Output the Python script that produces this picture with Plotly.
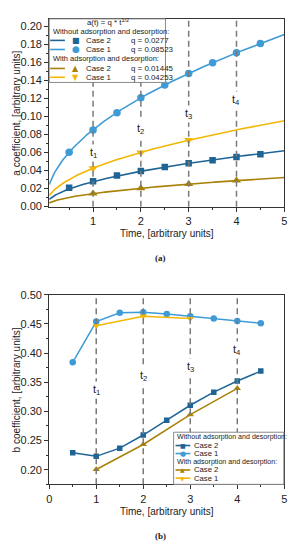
import numpy as np
import plotly.graph_objects as go

# ---------------- data ----------------
t_half = [0.5, 1.0, 1.5, 2.0, 2.5, 3.0, 3.5, 4.0, 4.5]
# panel (a): a coefficient
a_case2_wo = [0.021, 0.028, 0.0345, 0.0395, 0.044, 0.048, 0.0515, 0.055, 0.058]
a_case1_wo = [0.0603, 0.085, 0.104, 0.1205, 0.1348, 0.1476, 0.1595, 0.1705, 0.1808]
t_case2_w = [1, 2, 3, 4]
a_case2_w = [0.0145, 0.0204, 0.025, 0.0289]
t_case1_w = [1, 2, 3]
a_case1_w = [0.0425, 0.0601, 0.0737]
# fit coefficients a(t) = q * t^(1/2), as given in the legend
q_case2_wo = 0.0277
q_case1_wo = 0.08523
q_case2_w = 0.01445
q_case1_w = 0.04253
# panel (b): b coefficient
b_case2_wo = [0.229, 0.223, 0.237, 0.2595, 0.285, 0.3105, 0.333, 0.352, 0.369]
b_case1_wo = [0.384, 0.4538, 0.469, 0.470, 0.467, 0.463, 0.459, 0.455, 0.451]
b_case2_w = [0.2005, 0.2433, 0.2945, 0.3395]
b_case1_w = [0.4467, 0.463, 0.459]
# moments t1..t4
t_moments = [1, 2, 3, 4]
t_labels = ["t<sub>1</sub>", "t<sub>2</sub>", "t<sub>3</sub>", "t<sub>4</sub>"]
t_label_y_a = [0.059, 0.0857, 0.103, 0.118]
t_label_y_b = [0.336, 0.36, 0.376, 0.4055]

# ---------------- style ----------------
OFF = 8  # page body margin
W, H = 302 - OFF, 550 - OFF
C_DB = "#1E6596"
C_LB = "#3E9BD6"
C_GD = "#A88108"
C_YL = "#F2B705"
FONT = "Liberation Sans"
TXT = "#222222"


def px(x):
    return (x - OFF) / W


def py(y):
    return 1 - (y - OFF) / H


XA_RANGE = [0.083, 5.0]
t_fit = np.linspace(XA_RANGE[0], 5.0, 200)

fig = go.Figure()

# panel (a) fit curves
for q, col in [(q_case2_w, C_GD), (q_case1_w, C_YL), (q_case2_wo, C_DB), (q_case1_wo, C_LB)]:
    fig.add_trace(go.Scatter(x=t_fit, y=q * np.sqrt(t_fit), mode="lines",
                             line=dict(color=col, width=1.6), xaxis="x", yaxis="y",
                             showlegend=False, hoverinfo="skip"))
# panel (a) markers
fig.add_trace(go.Scatter(x=t_case2_w, y=a_case2_w, mode="markers", xaxis="x", yaxis="y",
                         marker=dict(symbol="triangle-up", size=8, color=C_GD), showlegend=False))
fig.add_trace(go.Scatter(x=t_case1_w, y=a_case1_w, mode="markers", xaxis="x", yaxis="y",
                         marker=dict(symbol="triangle-down", size=8, color=C_YL), showlegend=False))
fig.add_trace(go.Scatter(x=t_half, y=a_case2_wo, mode="markers", xaxis="x", yaxis="y",
                         marker=dict(symbol="square", size=6.5, color=C_DB), showlegend=False))
fig.add_trace(go.Scatter(x=t_half, y=a_case1_wo, mode="markers", xaxis="x", yaxis="y",
                         marker=dict(symbol="circle", size=7.5, color=C_LB), showlegend=False))

# panel (b)
fig.add_trace(go.Scatter(x=t_half, y=b_case2_wo, mode="lines+markers", xaxis="x2", yaxis="y2",
                         line=dict(color=C_DB, width=1.5),
                         marker=dict(symbol="square", size=5.5, color=C_DB), showlegend=False))
fig.add_trace(go.Scatter(x=t_half, y=b_case1_wo, mode="lines+markers", xaxis="x2", yaxis="y2",
                         line=dict(color=C_LB, width=1.5),
                         marker=dict(symbol="circle", size=6.5, color=C_LB), showlegend=False))
fig.add_trace(go.Scatter(x=t_case2_w, y=b_case2_w, mode="lines+markers", xaxis="x2", yaxis="y2",
                         line=dict(color=C_GD, width=1.5),
                         marker=dict(symbol="triangle-up", size=6.5, color=C_GD), showlegend=False))
fig.add_trace(go.Scatter(x=t_case1_w, y=b_case1_w, mode="lines+markers", xaxis="x2", yaxis="y2",
                         line=dict(color=C_YL, width=1.5),
                         marker=dict(symbol="triangle-down", size=6.5, color=C_YL), showlegend=False))

shapes = []
annotations = []

# dashed moment lines
for tm in t_moments:
    for xr, yr in [("x", "y domain"), ("x2", "y2 domain")]:
        shapes.append(dict(type="line", xref=xr, yref=yr, x0=tm, x1=tm, y0=0, y1=1,
                           line=dict(color="#7a7a7a", width=1.5, dash="6px,4px"), layer="above"))

# t labels
for tm, lab, ya, yb in zip(t_moments, t_labels, t_label_y_a, t_label_y_b):
    annotations.append(dict(x=tm, y=ya, xref="x", yref="y", text=lab, showarrow=False,
                            bgcolor="white", font=dict(family=FONT, size=11, color=TXT)))
    annotations.append(dict(x=tm, y=yb, xref="x2", yref="y2", text=lab, showarrow=False,
                            bgcolor="white", font=dict(family=FONT, size=11, color=TXT)))

# ---- legend (a), drawn manually ----
shapes.append(dict(type="rect", xref="paper", yref="paper", x0=px(47), x1=px(165.7),
                   y0=py(78), y1=py(13), fillcolor="white", line=dict(color="#8a8a8a", width=1),
                   layer="above"))


def ltext(x, y, s, anchor="left", size=7.9):
    annotations.append(dict(x=px(x), y=py(y), xref="paper", yref="paper", text=s,
                            showarrow=False, xanchor=anchor, yanchor="middle",
                            font=dict(family=FONT, size=size, color=TXT)))


def lmark(x, y, glyph, col, size):
    annotations.append(dict(x=px(x), y=py(y), xref="paper", yref="paper", text=glyph,
                            showarrow=False, xanchor="center", yanchor="middle",
                            font=dict(family="DejaVu Sans", size=size, color=col)))


def lline(x0, x1, y, col):
    shapes.append(dict(type="line", xref="paper", yref="paper", x0=px(x0), x1=px(x1),
                       y0=py(y), y1=py(y), line=dict(color=col, width=1.6), layer="above"))


ltext(107, 16.5, "a(t) = q * t<sup>1/2</sup>", anchor="center", size=7.8)
ltext(48.5, 26, "Without adsorption and desorption:", size=7.5)
ltext(48.5, 54, "With adsorption and desorption:", size=7.5)
rows_a = [(35, C_DB, "■", 8, "Case 2", q_case2_wo),
          (44.3, C_LB, "●", 9, "Case 1", q_case1_wo),
          (63.7, C_GD, "▲", 8, "Case 2", q_case2_w),
          (72.7, C_YL, "▼", 8, "Case 1", q_case1_w)]
for y, col, g, gs, name, q in rows_a:
    lline(48, 63, y, col)
    lmark(74, y, g, col, gs)
    ltext(83, y, name)
    ltext(128, y, "q = " + str(q))

# ---- legend (b), drawn manually ----
shapes.append(dict(type="rect", xref="paper", yref="paper", x0=px(174), x1=px(286.5),
                   y0=py(489), y1=py(435.7), fillcolor="white", line=dict(color="#8a8a8a", width=1),
                   layer="above"))
ltext(175.5, 440.7, "Without adsorption and desorption:", size=7.1)
ltext(175.5, 466, "With adsorption and desorption:", size=7.1)
rows_b = [(449.3, C_DB, "■", 6, "Case 2"),
          (457.5, C_LB, "●", 7, "Case 1"),
          (474.3, C_GD, "▲", 6, "Case 2"),
          (482.7, C_YL, "▼", 6, "Case 1")]
for y, col, g, gs, name in rows_b:
    lline(176, 191, y, col)
    lmark(183.5, y, g, col, gs)
    ltext(192.5, y, name, size=7.7)

# axis titles and captions
annotations += [
    dict(x=px(167), y=py(232), xref="paper", yref="paper", text="Time, [arbitrary units]",
         showarrow=False, xanchor="center", yanchor="middle",
         font=dict(family=FONT, size=10, color=TXT)),
    dict(x=px(167), y=py(517), xref="paper", yref="paper", text="Time, [arbitrary units]",
         showarrow=False, xanchor="center", yanchor="middle",
         font=dict(family=FONT, size=10, color=TXT)),
    dict(x=px(14), y=py(109), xref="paper", yref="paper", text="a coefficient, [arbitrary units]",
         showarrow=False, textangle=-90, xanchor="center", yanchor="middle",
         font=dict(family=FONT, size=10, color=TXT)),
    dict(x=px(14), y=py(392), xref="paper", yref="paper", text="b coefficient, [arbitrary units]",
         showarrow=False, textangle=-90, xanchor="center", yanchor="middle",
         font=dict(family=FONT, size=10, color=TXT)),
    dict(x=px(161), y=py(258), xref="paper", yref="paper", text="<b>(a)</b>",
         showarrow=False, xanchor="center", yanchor="middle",
         font=dict(family="Liberation Serif", size=9, color=TXT)),
    dict(x=px(161), y=py(542), xref="paper", yref="paper", text="<b>(b)</b>",
         showarrow=False, xanchor="center", yanchor="middle",
         font=dict(family="Liberation Serif", size=9, color=TXT)),
]

axis_common = dict(showline=True, mirror=True, linecolor="#333333", linewidth=1,
                   showgrid=False, zeroline=False, ticks="outside", ticklen=4, tickwidth=1,
                   tickcolor="#333333", tickfont=dict(family=FONT, size=11, color=TXT))

fig.update_layout(
    width=W, height=H, autosize=False,
    margin=dict(l=0, r=0, t=0, b=0),
    paper_bgcolor="white", plot_bgcolor="white",
    showlegend=False,
    xaxis=dict(domain=[px(47), px(287)], range=XA_RANGE, anchor="y", dtick=1, tick0=0,
               minor=dict(ticks="outside", ticklen=2, dtick=0.5, tick0=0, tickcolor="#333333"),
               **axis_common),
    yaxis=dict(domain=[py(205), py(13)], range=[0, 0.208], anchor="x", dtick=0.02, tick0=0,
               tickformat=".2f",
               minor=dict(ticks="outside", ticklen=2, dtick=0.01, tick0=0, tickcolor="#333333"),
               **axis_common),
    xaxis2=dict(domain=[px(47), px(287)], range=[0, 5], anchor="y2", dtick=1, tick0=0,
                minor=dict(ticks="outside", ticklen=2, dtick=0.5, tick0=0, tickcolor="#333333"),
                **axis_common),
    yaxis2=dict(domain=[py(489), py(295)], range=[0.175, 0.50], anchor="x2", dtick=0.05,
                tick0=0, tickformat=".2f",
                minor=dict(ticks="outside", ticklen=2, dtick=0.025, tick0=0, tickcolor="#333333"),
                **axis_common),
    shapes=shapes,
    annotations=annotations,
)

fig.write_html("out.html")
